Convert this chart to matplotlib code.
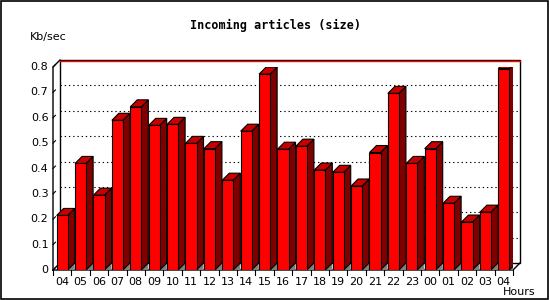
import numpy as np
import matplotlib
matplotlib.use("Agg")
import matplotlib.pyplot as plt
from matplotlib.patches import Polygon, Rectangle

hours = ["04", "05", "06", "07", "08", "09", "10", "11", "12", "13", "14", "15", "16",
         "17", "18", "19", "20", "21", "22", "23", "00", "01", "02", "03", "04"]
kbsec = [0.215, 0.42, 0.295, 0.59, 0.643, 0.57, 0.574, 0.499, 0.478, 0.354, 0.547, 0.772,
         0.476, 0.488, 0.394, 0.385, 0.331, 0.463, 0.696, 0.42, 0.478, 0.263, 0.189, 0.228, 0.794]
yticks = [0, 0.1, 0.2, 0.3, 0.4, 0.5, 0.6, 0.7, 0.8]

W, H = 550, 300
fig = plt.figure(figsize=(5.5, 3), dpi=100)
fig.patch.set_facecolor("white")

# front face of the plot box, in pixels
x0, x1, yb, yt = 53, 513, 270, 67
ax = fig.add_axes([x0 / W, (H - yb) / H, (x1 - x0) / W, (yb - yt) / H])
n = len(kbsec)
ax.set_xlim(-0.5, n - 0.5)
ax.set_ylim(0, 0.8)
ax.axis("off")

# depth offset (7 px) in data units
dx = 7 / ((x1 - x0) / n)
dy = 7 / ((yb - yt) / 0.8)
bw = 0.6

# back wall
ax.add_patch(Rectangle((-0.5 + dx, dy), n, 0.8, facecolor="white", edgecolor="black",
                       lw=1, clip_on=False, zorder=1))
for v in yticks[1:-1]:
    ax.plot([-0.5 + dx, n - 0.5 + dx], [v + dy, v + dy], color="black", lw=0.8,
            ls=(0, (1.2, 2.6)), clip_on=False, zorder=2)
ax.plot([-0.5 + dx, n - 0.5 + dx], [0.8 + dy - 0.004, 0.8 + dy - 0.004], color="red",
        lw=1, clip_on=False, zorder=2)
# left wall and floor edges
ax.plot([-0.5, -0.5, -0.5 + dx], [0, 0.8, 0.8 + dy], color="black", lw=1, clip_on=False, zorder=3)
ax.plot([-0.5, n - 0.5, n - 0.5 + dx], [0, 0, dy], color="black", lw=1, clip_on=False, zorder=3)
ax.plot([-0.5, -0.5 + dx], [0, dy], color="black", lw=1, clip_on=False, zorder=3)
for v in yticks:
    ax.plot([-0.5, -0.5 + dx * 0.35], [v, v + dy * 0.35], color="black", lw=0.8,
            clip_on=False, zorder=3)

# bars
for i, v in enumerate(kbsec):
    l, r = i - bw / 2, i + bw / 2
    ax.add_patch(Polygon([(r, 0), (r + dx, dy), (r + dx, 0)], closed=True,
                         facecolor="#808080", edgecolor="none", zorder=4))
    ax.add_patch(Polygon([(r, 0), (r + dx, dy), (r + dx, v + dy), (r, v)], closed=True,
                         facecolor="#800000", edgecolor="black", lw=0.8, zorder=5))
    ax.add_patch(Polygon([(l, v), (l + dx, v + dy), (r + dx, v + dy), (r, v)], closed=True,
                         facecolor="#c80000", edgecolor="black", lw=0.8, zorder=5))
    ax.add_patch(Rectangle((l, 0), bw, v, facecolor="#ff0000", edgecolor="black",
                           lw=0.8, zorder=6))

# ticks and labels
for i in range(n + 1):
    ax.plot([i - 0.5, i - 0.5], [0, -0.02], color="black", lw=0.8, clip_on=False)
for i, h in enumerate(hours):
    ax.text(i, -0.028, h, ha="center", va="top", fontsize=8, family="DejaVu Sans")
for v in yticks:
    ax.text(-0.75, v, f"{v:g}", ha="right", va="center", fontsize=8, family="DejaVu Sans")

fig.text(275 / W, 1 - 25 / H, "Incoming articles (size)", ha="center", va="center",
         fontsize=8.5, fontweight="bold", family="DejaVu Sans Mono")
fig.text(30 / W, 1 - 37 / H, "Kb/sec", ha="left", va="center", fontsize=8, family="DejaVu Sans")
fig.text(535 / W, 1 - 292 / H, "Hours", ha="right", va="center", fontsize=8, family="DejaVu Sans")

fig.add_artist(Rectangle((0.001, 0.003), 0.996, 0.994, transform=fig.transFigure,
                         facecolor="none", edgecolor="black", lw=1.2))

fig.savefig("out.png", dpi=100)
